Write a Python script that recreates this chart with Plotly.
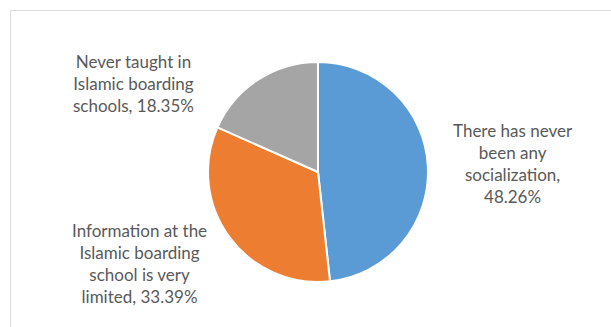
import plotly.graph_objects as go

labels = ["There has never been any socialization",
          "Information at the Islamic boarding school is very limited",
          "Never taught in Islamic boarding schools"]
values = [48.26, 33.39, 18.35]
colors = ["#5B9BD5", "#ED7D31", "#A5A5A5"]
label_texts = ["There has never<br>been any<br>socialization,<br>48.26%",
               "Information at the<br>Islamic boarding<br>school is very<br>limited, 33.39%",
               "Never taught in<br>Islamic boarding<br>schools, 18.35%"]
label_pos = [(513, 164), (139, 263), (133, 83)]  # pixel centers

W, H = 611, 327
cx, cy, r = 318, 172, 110

fig = go.Figure(go.Pie(
    labels=labels, values=values, sort=False, direction="clockwise", rotation=0,
    marker=dict(colors=colors, line=dict(color="white", width=2)),
    textinfo="none", hoverinfo="label+percent", showlegend=False,
    domain=dict(x=[(cx - r) / W, (cx + r) / W], y=[(H - cy - r) / H, (H - cy + r) / H]),
))

for t, (x, y) in zip(label_texts, label_pos):
    fig.add_annotation(text=t, x=x / W, y=1 - y / H, xref="paper", yref="paper",
                       showarrow=False, xanchor="center", yanchor="middle", align="center",
                       font=dict(family="Lato", size=17, color="#595959"))

fig.add_shape(type="rect", xref="paper", yref="paper",
              x0=10.5 / W, x1=1.2, y0=-0.2, y1=1 - 10.5 / H,
              line=dict(color="#D9D9D9", width=1), fillcolor="rgba(0,0,0,0)")

fig.update_layout(width=W, height=H, margin=dict(l=0, r=0, t=0, b=0),
                  paper_bgcolor="white", plot_bgcolor="white")
fig.write_html("out.html")
